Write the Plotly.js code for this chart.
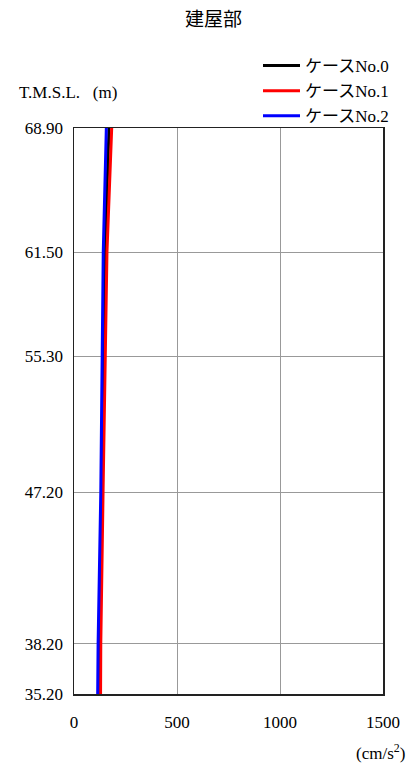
<!DOCTYPE html>
<html>
<head>
<meta charset="utf-8">
<script src="https://cdn.plot.ly/plotly-3.0.1.min.js"></script>
<style>html,body{margin:0;padding:0;background:#fff;}</style>
</head>
<body>
<div id="chart" style="width:409px;height:770px;"></div>
<script>
// Elevation levels (T.M.S.L., m)
const levels = [35.20, 38.20, 47.20, 55.30, 61.50, 68.90];
const levelLabels = ["35.20", "38.20", "47.20", "55.30", "61.50", "68.90"];
// Maximum response acceleration (cm/s2)
const case0 = [124, 125, 135, 144, 150, 170];
const case1 = [129, 130, 141, 152, 160, 183];
const case2 = [115, 117, 130, 138, 142, 157];
const seriesNames = ["ケースNo.0", "ケースNo.1", "ケースNo.2"];
const seriesColors = ["#000000", "#ff0000", "#0000ff"];
const xTicks = [0, 500, 1000, 1500];

const FONT = "'Liberation Serif', 'Noto Sans CJK JP', serif";

const data = [case0, case1, case2].map((vals, i) => ({
  type: "scatter", mode: "lines",
  x: vals, y: levels, name: seriesNames[i],
  line: {color: seriesColors[i], width: 3}
}));

// plot area: x 74..383, y 128..694
const PL = 74, PR = 383, PT = 128, PB = 694;
const px2x = px => (px - PL) / (PR - PL);
const px2y = py => (PB - py) / (PB - PT);

const layout = {
  width: 409, height: 770,
  margin: {l: PL, r: 409 - PR, t: PT, b: 770 - PB, autoexpand: false},
  paper_bgcolor: "#ffffff", plot_bgcolor: "#ffffff",
  font: {family: FONT, size: 17, color: "#000"},
  showlegend: true,
  legend: {
    x: px2x(258), xanchor: "left", y: px2y(48), yanchor: "top",
    traceorder: "normal",
    font: {family: FONT, size: 17, color: "#000"},
    bgcolor: "rgba(0,0,0,0)", itemwidth: 37, tracegroupgap: 0
  },
  xaxis: {
    range: [0, 1500], tickvals: xTicks, ticktext: xTicks.map(String),
    showgrid: true, gridcolor: "#999", gridwidth: 1,
    showline: true, mirror: true, linecolor: "#222", linewidth: 1.5,
    ticks: "", zeroline: false, ticklabelstandoff: 12,
    tickfont: {family: FONT, size: 17, color: "#000"}, fixedrange: true
  },
  yaxis: {
    range: [35.20, 68.90], tickvals: levels, ticktext: levelLabels,
    showgrid: true, gridcolor: "#999", gridwidth: 1,
    showline: true, mirror: true, linecolor: "#222", linewidth: 1.5,
    ticks: "", zeroline: false, ticklabelstandoff: 6,
    tickfont: {family: FONT, size: 17, color: "#000"}, fixedrange: true
  },
  annotations: [
    {text: "建屋部", xref: "paper", yref: "paper", x: px2x(213), y: px2y(20),
     xanchor: "center", yanchor: "middle", showarrow: false, font: {family: FONT, size: 19}},
    {text: "T.M.S.L.\u00a0\u00a0\u00a0(m)", xref: "paper", yref: "paper", x: px2x(17), y: px2y(92),
     xanchor: "left", yanchor: "middle", showarrow: false, font: {family: FONT, size: 17}},
    {text: "(cm/s<sup>2</sup>)", xref: "paper", yref: "paper", x: px2x(407), y: px2y(752),
     xanchor: "right", yanchor: "middle", showarrow: false, font: {family: FONT, size: 17}}
  ]
};

Plotly.newPlot("chart", data, layout, {displayModeBar: false, staticPlot: true});
</script>
</body>
</html>
